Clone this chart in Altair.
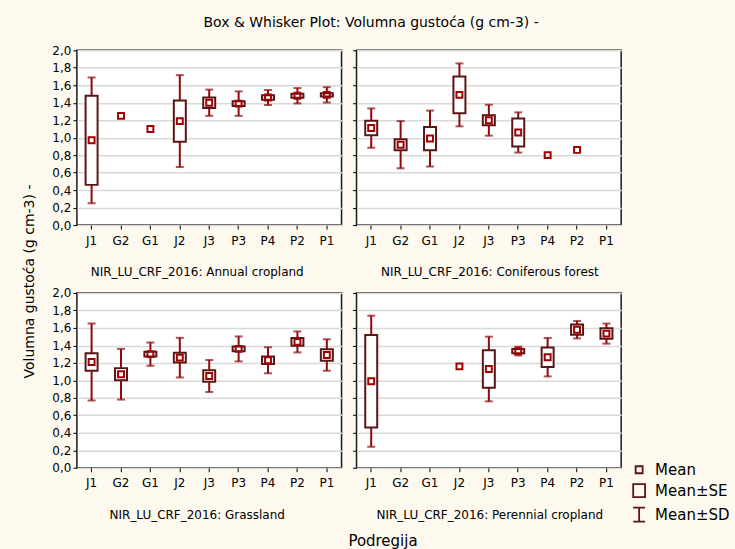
import altair as alt
import pandas as pd

# Sub-regions on the x axis, in plotting order
cats = ["J1", "G2", "G1", "J2", "J3", "P3", "P4", "P2", "P1"]

panels = [
    "NIR_LU_CRF_2016: Annual cropland",
    "NIR_LU_CRF_2016: Coniferous forest",
    "NIR_LU_CRF_2016: Grassland",
    "NIR_LU_CRF_2016: Perennial cropland",
]

# Bulk density (g cm-3): mean, standard error and standard deviation per sub-region
annual_mean = [0.97, 1.25, 1.10, 1.19, 1.40, 1.39, 1.46, 1.48, 1.49]
annual_se = [0.51, None, None, 0.236, 0.061, 0.027, 0.025, 0.023, 0.019]
annual_sd = [0.72, None, None, 0.526, 0.15, 0.14, 0.086, 0.088, 0.088]

conif_mean = [1.11, 0.92, 0.99, 1.49, 1.20, 1.06, 0.80, 0.86, None]
conif_se = [0.083, 0.063, 0.133, 0.21, 0.057, 0.16, None, None, None]
conif_sd = [0.225, 0.27, 0.32, 0.36, 0.177, 0.23, None, None, None]

grass_mean = [1.21, 1.07, 1.30, 1.26, 1.05, 1.36, 1.23, 1.44, 1.29]
grass_se = [0.10, 0.07, 0.028, 0.055, 0.065, 0.028, 0.044, 0.044, 0.065]
grass_sd = [0.44, 0.29, 0.133, 0.227, 0.183, 0.143, 0.149, 0.12, 0.18]

peren_mean = [0.99, None, None, 1.16, 1.13, 1.335, 1.265, 1.58, 1.535]
peren_se = [0.53, None, None, None, 0.215, 0.025, 0.112, 0.059, 0.06]
peren_sd = [0.75, None, None, None, 0.37, 0.05, 0.22, 0.10, 0.115]

legend_items = ["Mean", "Mean±SE", "Mean±SD"]

rows = []
for panel, means, ses, sds in zip(
    panels,
    [annual_mean, conif_mean, grass_mean, peren_mean],
    [annual_se, conif_se, grass_se, peren_se],
    [annual_sd, conif_sd, grass_sd, peren_sd],
):
    for c, m, se, sd in zip(cats, means, ses, sds):
        if m is None:
            continue
        rows.append({
            "panel": panel,
            "cat": c,
            "kind": legend_items[0],
            "mean": m,
            "se_lo": m - se if se is not None else None,
            "se_hi": m + se if se is not None else None,
            "sd_lo": m - sd if sd is not None else None,
            "sd_hi": m + sd if sd is not None else None,
        })
df = pd.DataFrame(rows)

RED = "#8e0a0a"
BOX = "#5a1616"
MEAN = "#a00000"
FONT = "DejaVu Sans"

shape_scale = alt.Scale(
    domain=legend_items,
    range=[
        "M-0.5,-0.5H0.5V0.5H-0.5Z",
        "M-0.85,-0.93H0.85V0.93H-0.85Z",
        "M-0.85,-1H0.85M0,-1V1M-0.85,1H0.85",
    ],
)
shape_legend = alt.Legend(
    title=None,
    orient="none",
    legendX=555,
    legendY=412,
    symbolSize=196,
    symbolStrokeColor=BOX,
    symbolFillColor="white",
    symbolStrokeWidth=1.8,
    labelFont=FONT,
    labelFontSize=15,
    labelColor="black",
    labelOffset=8,
    rowPadding=2,
    padding=0,
)


def make_panel(name, left, first=False):
    base = alt.Chart(df).transform_filter(alt.datum.panel == name)
    x = alt.X(
        "cat:N",
        scale=alt.Scale(domain=cats, paddingInner=0, paddingOuter=0),
        axis=alt.Axis(
            title=name,
            labelAngle=0,
            labelFont=FONT,
            labelFontSize=12,
            labelColor="black",
            labelPadding=6,
            tickSize=4,
            tickColor="black",
            domain=False,
            titleFont=FONT,
            titleFontSize=12,
            titleFontWeight="normal",
            titleColor="black",
            titlePadding=21,
            titleX=120 if left else 133,
        ),
    )
    yaxis_kw = dict(
        values=[round(v * 0.2, 1) for v in range(11)],
        labelExpr="replace(format(datum.value, '.1f'), '.', ',')",
        labels=left,
        labelFont=FONT,
        labelFontSize=12,
        labelColor="black",
        labelPadding=2,
        tickSize=4,
        tickColor="black",
        domain=False,
        grid=True,
        gridColor="#d9d9d9",
        gridWidth=1.5,
    )
    if first:
        yaxis_kw.update(
            title="Volumna gustoća (g cm-3) -",
            titleFont=FONT,
            titleFontSize=14,
            titleFontWeight="normal",
            titleColor="black",
            titleX=-40,
            titleY=231,
            titleBaseline="bottom",
        )
    else:
        yaxis_kw.update(title=None)
    yaxis = alt.Axis(**yaxis_kw)
    yscale = alt.Scale(domain=[0, 2], nice=False, zero=False)

    def y(field):
        return alt.Y(field, type="quantitative", scale=yscale, axis=yaxis)

    whisk = base.transform_filter("isValid(datum.sd_lo)").mark_rule(
        color=RED, strokeWidth=2
    ).encode(x=x, y=y("sd_lo"), y2="sd_hi:Q")
    cap_lo = base.transform_filter("isValid(datum.sd_lo)").mark_tick(
        color=RED, size=8, thickness=2
    ).encode(x=x, y=y("sd_lo"))
    cap_hi = base.transform_filter("isValid(datum.sd_hi)").mark_tick(
        color=RED, size=8, thickness=2
    ).encode(x=x, y=y("sd_hi"))
    box = base.transform_filter("isValid(datum.se_lo)").mark_bar(
        size=12, fill="white", stroke=BOX, strokeWidth=2
    ).encode(x=x, y=y("se_lo"), y2="se_hi:Q")
    mean = base.mark_point(
        size=140, filled=False, color=MEAN, strokeWidth=2, opacity=1
    ).encode(
        x=x,
        y=y("mean"),
        shape=alt.Shape("kind:N", scale=shape_scale, legend=shape_legend),
    )
    return alt.layer(whisk, cap_lo, cap_hi, box, mean).properties(width=265, height=175)


grid = alt.concat(
    make_panel(panels[0], True, first=True),
    make_panel(panels[1], False),
    make_panel(panels[2], True),
    make_panel(panels[3], False),
    columns=2,
    spacing={"row": 68, "column": 15},
    bounds="flush",
).properties(
    title=alt.TitleParams(
        "Podregija",
        orient="bottom",
        anchor="middle",
        font=FONT,
        fontSize=15,
        fontWeight="normal",
        color="black",
        offset=13,
        dx=61,
    )
)

chart = (
    alt.vconcat(grid)
    .properties(
        title=alt.TitleParams(
            "Box & Whisker Plot: Volumna gustoća (g cm-3) -",
            anchor="middle",
            font=FONT,
            fontSize=14,
            fontWeight="normal",
            color="black",
            offset=14,
            dx=-5,
        ),
        background="#fdf9ee",
        padding={"left": 22, "top": 15, "right": 5, "bottom": 2},
    )
    .resolve_scale(shape="shared")
    .resolve_legend(shape="shared")
    .configure_view(stroke="#1a1a1a", strokeWidth=1.5, fill="white")
)

chart.save("out.html", embed_options={"renderer": "svg", "actions": False})
